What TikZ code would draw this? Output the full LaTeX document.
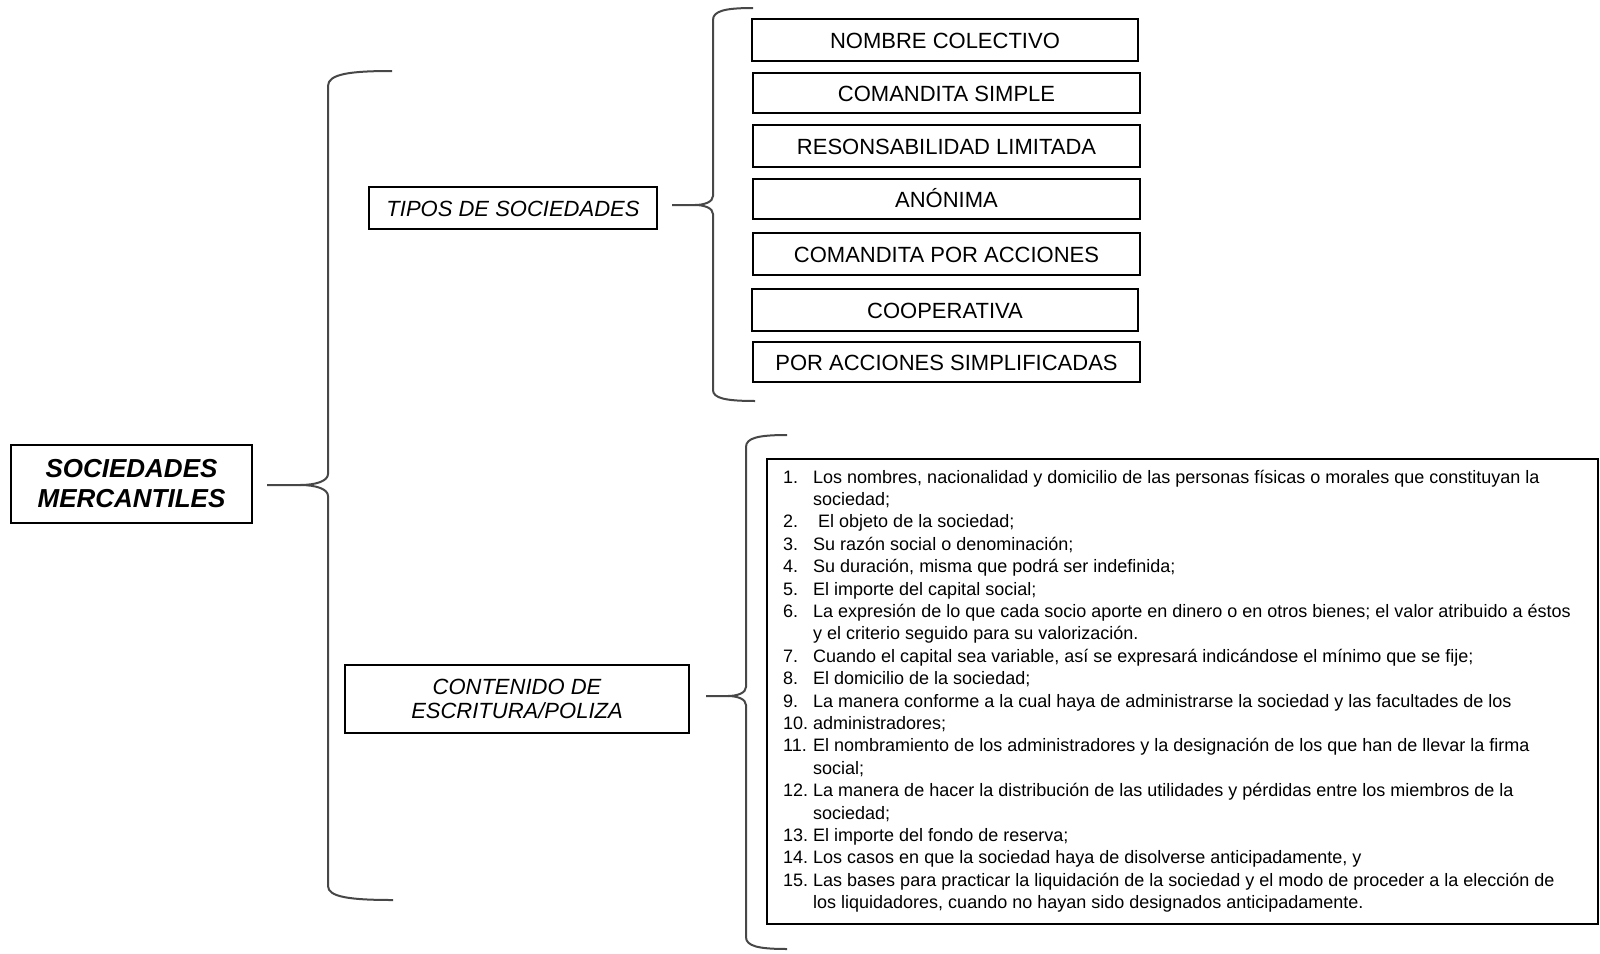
\documentclass[tikz,border=0pt]{standalone}
\usepackage{fontspec}
\setmainfont{Liberation Sans}
\begin{document}
\begin{tikzpicture}[x=1pt,y=-1pt,
  box/.style={draw=black, line width=1.3pt, inner sep=0pt, align=center},
  typebox/.style={box, minimum width=387pt, font=\fontsize{22}{26}\selectfont, text height=16pt, text depth=0pt},
  bracel/.style={draw=black!72, line width=2pt, line join=round},
  li/.style={anchor=base west, inner sep=0pt, font=\fontsize{18}{22}\selectfont},
]
\useasboundingbox (0,0) rectangle (1600,953);

% main node
\node[box, minimum width=241pt, minimum height=78pt, font=\fontsize{26}{30}\selectfont\bfseries\itshape] (sm) at (131.5,484) {SOCIEDADES\\MERCANTILES};

% second level
\node[box, minimum width=288pt, minimum height=42pt, font=\fontsize{22}{26}\selectfont\itshape, text height=16pt, text depth=0pt] (tipos) at (513,208) {TIPOS DE SOCIEDADES};
\node[box, minimum width=344pt, minimum height=68pt, font=\fontsize{22}{24}\selectfont\itshape] (cont) at (517,699) {CONTENIDO DE\\ESCRITURA/POLIZA};

% types
\node[typebox, minimum width=386pt, minimum height=42pt] (t1) at (945,40) {NOMBRE COLECTIVO};
\node[typebox, minimum height=40pt] (t2) at (946.5,93) {COMANDITA SIMPLE};
\node[typebox, minimum height=42pt] (t3) at (946.5,146) {RESONSABILIDAD LIMITADA};
\node[typebox, minimum height=40pt] (t4) at (946.5,199) {ANÓNIMA};
\node[typebox, minimum height=42pt] (t5) at (946.5,254) {COMANDITA POR ACCIONES};
\node[typebox, minimum width=386pt, minimum height=42pt] (t6) at (945,310) {COOPERATIVA};
\node[typebox, minimum height=40pt] (t7) at (946.5,362) {POR ACCIONES SIMPLIFICADAS};

% list box
\node[draw=black, line width=1.3pt, minimum width=831pt, minimum height=465pt, inner sep=0pt] (list) at (1182.5,691.5) {};

\node[li] (l1) at (783,483.0) {\makebox[30pt][l]{1.}Los nombres, nacionalidad y domicilio de las personas físicas o morales que constituyan la};
\node[li] (l2) at (783,505.4) {\makebox[30pt][l]{}sociedad;};
\node[li] (l3) at (783,527.8) {\makebox[30pt][l]{2.} El objeto de la sociedad;};
\node[li] (l4) at (783,550.2) {\makebox[30pt][l]{3.}Su razón social o denominación;};
\node[li] (l5) at (783,572.6) {\makebox[30pt][l]{4.}Su duración, misma que podrá ser indefinida;};
\node[li] (l6) at (783,595.0) {\makebox[30pt][l]{5.}El importe del capital social;};
\node[li] (l7) at (783,617.4) {\makebox[30pt][l]{6.}La expresión de lo que cada socio aporte en dinero o en otros bienes; el valor atribuido a éstos};
\node[li] (l8) at (783,639.8) {\makebox[30pt][l]{}y el criterio seguido para su valorización.};
\node[li] (l9) at (783,662.2) {\makebox[30pt][l]{7.}Cuando el capital sea variable, así se expresará indicándose el mínimo que se fije;};
\node[li] (l10) at (783,684.6) {\makebox[30pt][l]{8.}El domicilio de la sociedad;};
\node[li] (l11) at (783,707.0) {\makebox[30pt][l]{9.}La manera conforme a la cual haya de administrarse la sociedad y las facultades de los};
\node[li] (l12) at (783,729.4) {\makebox[30pt][l]{10.}administradores;};
\node[li] (l13) at (783,751.8) {\makebox[30pt][l]{11.}El nombramiento de los administradores y la designación de los que han de llevar la firma};
\node[li] (l14) at (783,774.2) {\makebox[30pt][l]{}social;};
\node[li] (l15) at (783,796.6) {\makebox[30pt][l]{12.}La manera de hacer la distribución de las utilidades y pérdidas entre los miembros de la};
\node[li] (l16) at (783,819.0) {\makebox[30pt][l]{}sociedad;};
\node[li] (l17) at (783,841.4) {\makebox[30pt][l]{13.}El importe del fondo de reserva;};
\node[li] (l18) at (783,863.8) {\makebox[30pt][l]{14.}Los casos en que la sociedad haya de disolverse anticipadamente, y};
\node[li] (l19) at (783,886.2) {\makebox[30pt][l]{15.}Las bases para practicar la liquidación de la sociedad y el modo de proceder a la elección de};
\node[li] (l20) at (783,908.6) {\makebox[30pt][l]{}los liquidadores, cuando no hayan sido designados anticipadamente.};

% brace coordinates
\coordinate (b1tip) at (267,485);
\coordinate (b1top) at (392,71);
\coordinate (b1bot) at (393,900);
\coordinate (b2tip) at (672,205);
\coordinate (b2top) at (753,8);
\coordinate (b2bot) at (755,401);
\coordinate (b3tip) at (706,696);
\coordinate (b3top) at (787,435);
\coordinate (b3bot) at (787,949);

% big brace
\draw[bracel] (b1top) .. controls (350,71) and (328,74) .. (328,86) -- (328,474)
  .. controls (328,481) and (316,485) .. (300,485) -- (b1tip);
\draw[bracel] (300,485) .. controls (316,485) and (328,489) .. (328,496) -- (328,886)
  .. controls (328,897) and (350,900) .. (b1bot);

% tipos brace
\draw[bracel] (b2top) .. controls (725,8) and (713,11) .. (713,20) -- (713,196)
  .. controls (713,202) and (704,205) .. (695,205) -- (b2tip);
\draw[bracel] (695,205) .. controls (704,205) and (713,208) .. (713,214) -- (713,390)
  .. controls (713,398) and (725,401) .. (b2bot);

% contenido brace
\draw[bracel] (b3top) .. controls (758,435) and (746,438) .. (746,447) -- (746,687)
  .. controls (746,693) and (737,696) .. (728,696) -- (b3tip);
\draw[bracel] (728,696) .. controls (737,696) and (746,699) .. (746,705) -- (746,937)
  .. controls (746,946) and (758,949) .. (b3bot);
\end{tikzpicture}
\end{document}
